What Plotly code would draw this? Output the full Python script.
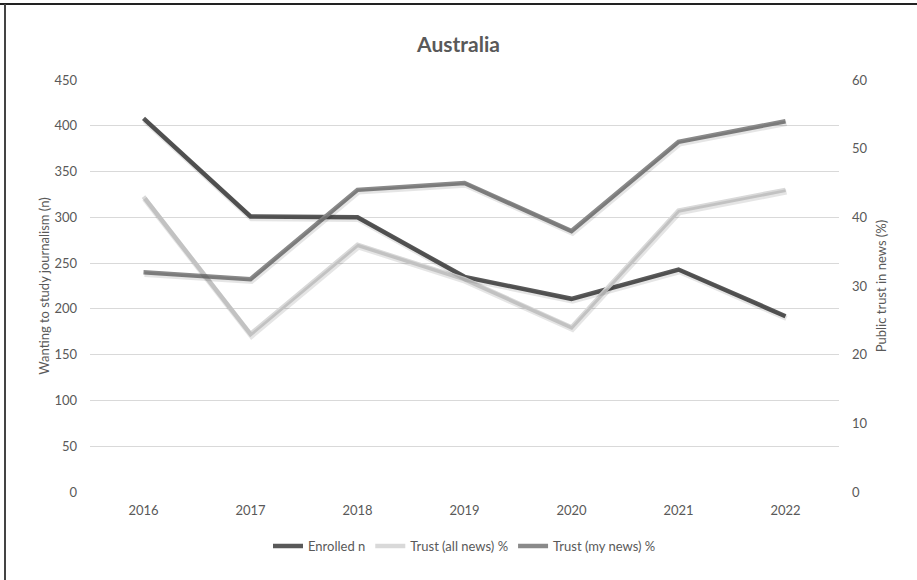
import plotly.graph_objects as go

years = ["2016", "2017", "2018", "2019", "2020", "2021", "2022"]
enrolled_n = [408, 301, 300, 235, 211, 243, 192]
trust_all_news = [43, 23, 36, 31, 24, 41, 44]
trust_my_news = [32, 31, 44, 45, 38, 51, 54]

left_ticks = list(range(0, 451, 50))
right_ticks = list(range(0, 61, 10))

FONT = "Lato, 'Open Sans', sans-serif"
TXT = "#595959"

PLOT_W, PLOT_H = 749, 412
SHADOW_DX, SHADOW_DY = 1.0, 2.0  # shadow offset in pixels

series = [
    ("Enrolled n", enrolled_n, "#595959", "left"),
    ("Trust (all news) %", trust_all_news, "#d9d9d9", "right"),
    ("Trust (my news) %", trust_my_news, "#8a8a8a", "right"),
]

fig = go.Figure()

# soft drop shadow drawn on offset copies of the axes
for name, vals, color, side in series:
    fig.add_trace(go.Scatter(
        x=years, y=vals, xaxis="x2", yaxis="y3" if side == "left" else "y4",
        mode="lines", line=dict(color="rgba(0,0,0,0.10)", width=5.5),
        showlegend=False, hoverinfo="skip",
    ))

for name, vals, color, side in series:
    fig.add_trace(go.Scatter(
        x=years, y=vals, yaxis="y" if side == "left" else "y2",
        mode="lines", name=name, line=dict(color=color, width=4.5),
    ))

dx = SHADOW_DX * 7 / PLOT_W
dy_l = SHADOW_DY * 450 / PLOT_H
dy_r = SHADOW_DY * 60 / PLOT_H

fig.update_layout(
    width=917, height=580,
    margin=dict(l=90, r=78, t=80, b=88),
    paper_bgcolor="white", plot_bgcolor="white",
    font=dict(family=FONT, size=13, color=TXT),
    title=dict(text="<b>Australia</b>", x=0.5, xanchor="center",
               y=1 - 45 / 580, yanchor="middle",
               font=dict(family=FONT, size=21, color=TXT)),
    xaxis=dict(type="category", range=[-0.5, 6.5], showgrid=False, showline=False,
               ticks="", tickfont=dict(size=13, color=TXT), ticklabelstandoff=9),
    xaxis2=dict(type="category", range=[-0.5 - dx, 6.5 - dx], overlaying="x",
                visible=False),
    yaxis=dict(range=[0, 450], tickvals=left_ticks, showgrid=True,
               gridcolor="#d9d9d9", gridwidth=1.3, zeroline=False,
               showline=False, ticks="", tickfont=dict(size=13, color=TXT),
               ticklabelstandoff=12,
               title=dict(text="Wanting to study journalism (n)",
                          font=dict(size=13, color=TXT), standoff=1)),
    yaxis2=dict(range=[0, 60], tickvals=right_ticks, overlaying="y", side="right",
                showgrid=False, zeroline=False, showline=False, ticks="",
                tickfont=dict(size=13, color=TXT), ticklabelstandoff=12,
                title=dict(text="Public trust in news (%)",
                           font=dict(size=13, color=TXT), standoff=10)),
    yaxis3=dict(range=[dy_l, 450 + dy_l], overlaying="y", visible=False),
    yaxis4=dict(range=[dy_r, 60 + dy_r], overlaying="y", visible=False),
    legend=dict(orientation="h", x=0.5, xanchor="center", y=-0.095, yanchor="top",
                font=dict(size=13, color=TXT), itemwidth=30,
                bgcolor="rgba(0,0,0,0)"),
    showlegend=True,
)

# frame edges along top and left
fig.add_shape(type="line", xref="paper", yref="paper", x0=-90 / PLOT_W, x1=1.2,
              y0=1 + 76 / PLOT_H, y1=1 + 76 / PLOT_H, line=dict(color="#222", width=2))
fig.add_shape(type="line", xref="paper", yref="paper", x0=-85 / PLOT_W, x1=-85 / PLOT_W,
              y0=-0.3, y1=1 + 76 / PLOT_H, line=dict(color="#444", width=2))

fig.write_html("out.html")
